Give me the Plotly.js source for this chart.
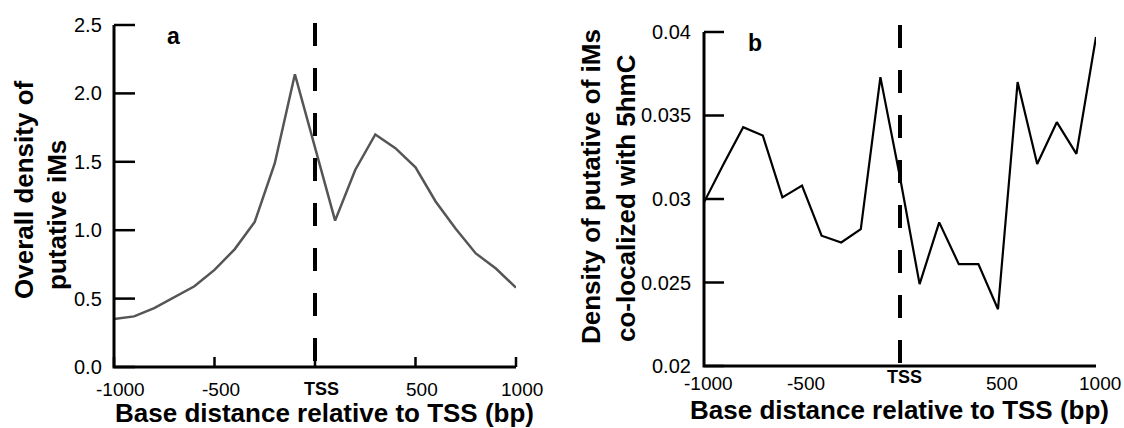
<!DOCTYPE html>
<html>
<head>
<meta charset="utf-8">
<script src="https://cdn.plot.ly/plotly-3.0.1.min.js"></script>
<style>html,body{margin:0;padding:0;background:#fff;}#chart{width:1124px;height:428px;}</style>
</head>
<body>
<div id="chart"></div>
<script>
// Base distance relative to TSS (bp)
const distance = [-1000,-900,-800,-700,-600,-500,-400,-300,-200,-100,0,100,200,300,400,500,600,700,800,900,1000];
// Panel a: overall density of putative iMs
const densityAll = [0.35,0.37,0.43,0.51,0.59,0.71,0.86,1.06,1.49,2.14,1.60,1.07,1.44,1.70,1.60,1.46,1.21,1.01,0.83,0.72,0.58];
// Panel b: density of putative iMs co-localized with 5hmC
const density5hmC = [0.0298,0.0321,0.0343,0.0338,0.0301,0.0308,0.0278,0.0274,0.0282,0.0373,0.0313,0.0249,0.0286,0.0261,0.0261,0.0234,0.0370,0.0321,0.0346,0.0327,0.0397];

const xTickVals = [-1000,-500,0,500,1000];
const xTickText = ['-1000','-500','TSS','500','1000'];
const yTickValsA = [0,0.5,1.0,1.5,2.0,2.5];
const yTickTextA = ['0.0','0.5','1.0','1.5','2.0','2.5'];
const yTickValsB = [0.02,0.025,0.03,0.035,0.04];
const yTickTextB = ['0.02','0.025','0.03','0.035','0.04'];
const tssMarker = 0;
const rangeX = [-1000, 1000];
const rangeA = [0, 2.5];
const rangeB = [0.02, 0.04];

const W = 1124, H = 428;
const M = {l: 114, r: 28, t: 25, b: 61};
const PW = W - M.l - M.r, PH = H - M.t - M.b;
const FONT = '"Liberation Sans", Arial, sans-serif';
const px = v => (v - M.l) / PW;
const py = v => (H - M.b - v) / PH;
const frac = (v, r) => (v - r[0]) / (r[1] - r[0]);

const traces = [
  {x: distance, y: densityAll, type: 'scatter', mode: 'lines', xaxis: 'x', yaxis: 'y',
   line: {color: '#555555', width: 2.5}},
  {x: distance, y: density5hmC, type: 'scatter', mode: 'lines', xaxis: 'x2', yaxis: 'y2',
   line: {color: '#000000', width: 2.2}}
];

function ax(extra) {
  return Object.assign({showgrid: false, zeroline: false, showline: false, ticks: '', showticklabels: false,
    fixedrange: true}, extra);
}

// axis frames, ticks and TSS markers
const shapes = [];
function frame(xr, yr) {
  shapes.push({type: 'path', xref: xr + ' domain', yref: yr + ' domain', path: 'M0,1 L0,0 L1,0',
    line: {color: '#000000', width: 3}});
}
function yTicks(xr, yr, vals, range, len) {
  vals.forEach(v => shapes.push({type: 'line', xref: xr + ' domain', yref: yr + ' domain',
    xsizemode: 'pixel', xanchor: 0, x0: 0, x1: len, y0: frac(v, range), y1: frac(v, range),
    line: {color: '#000000', width: 2.5}}));
}
function xTicks(xr, yr, vals, range, len) {
  vals.forEach(v => shapes.push({type: 'line', xref: xr + ' domain', yref: yr + ' domain',
    ysizemode: 'pixel', yanchor: 0, y0: 0, y1: len, x0: frac(v, range), x1: frac(v, range),
    line: {color: '#000000', width: 2.5}}));
}
frame('x', 'y');
frame('x2', 'y2');
yTicks('x', 'y', yTickValsA, rangeA, 21);
xTicks('x', 'y', xTickVals, rangeX, 10);
yTicks('x2', 'y2', yTickValsB, rangeB, 20);
shapes.push({type: 'line', xref: 'x', yref: 'y domain', x0: tssMarker, x1: tssMarker, y0: 1 + 2 / 342, y1: 0,
  line: {color: '#000000', width: 4, dash: '23px,22px'}});
shapes.push({type: 'line', xref: 'x2', yref: 'y2 domain', x0: tssMarker, x1: tssMarker, y0: 1 + 7 / 334, y1: 0,
  line: {color: '#000000', width: 4, dash: '23px,22px'}});

// texts
const annotations = [];
function ann(o) {
  annotations.push(Object.assign({showarrow: false, borderpad: 0, xanchor: 'center', yanchor: 'middle'}, o));
}
function xLabels(xr, yr, yshiftBase, xshift, tssShift) {
  xTickVals.forEach((v, i) => {
    const isTss = xTickText[i] === 'TSS';
    ann({xref: xr + ' domain', yref: yr + ' domain', x: frac(v, rangeX), y: 0,
      xshift: xshift, yshift: isTss ? tssShift : yshiftBase,
      text: isTss ? '<b>' + xTickText[i] + '</b>' : xTickText[i],
      font: {family: FONT, size: isTss ? 18 : 19, color: '#000000'}});
  });
}
function yLabels(xr, yr, vals, texts, range, xshift) {
  vals.forEach((v, i) => ann({xref: xr + ' domain', yref: yr + ' domain', x: 0, y: frac(v, range),
    xanchor: 'right', xshift: xshift, text: texts[i], font: {family: FONT, size: 20, color: '#000000'}}));
}
xLabels('x', 'y', -22, 6, -22);
xLabels('x2', 'y2', -17, 4, -11);
yLabels('x', 'y', yTickValsA, yTickTextA, rangeA, -11);
yLabels('x2', 'y2', yTickValsB, yTickTextB, rangeB, -12);

function pann(x, y, text, size, angle) {
  ann({xref: 'paper', yref: 'paper', x: px(x), y: py(y), text: text, textangle: angle || 0,
    font: {family: FONT, size: size, color: '#000000'}});
}
pann(173, 36, '<b>a</b>', 23);
pann(755, 43, '<b>b</b>', 23);
pann(324, 413, '<b>Base distance relative to TSS (bp)</b>', 26);
pann(899, 410, '<b>Base distance relative to TSS (bp)</b>', 26);
pann(24, 190, '<b>Overall density of</b>', 26, -90);
pann(57, 215, '<b>putative iMs</b>', 26, -90);
pann(591, 187, '<b>Density of putative of iMs</b>', 26, -90);
pann(626, 198, '<b>co-localized with 5hmC</b>', 26, -90);

const layout = {
  width: W, height: H, margin: M, showlegend: false,
  paper_bgcolor: '#ffffff', plot_bgcolor: '#ffffff',
  font: {family: FONT, color: '#000000'},
  xaxis: ax({domain: [px(114), px(516)], range: rangeX, anchor: 'y'}),
  yaxis: ax({domain: [py(367), py(25)], range: rangeA, anchor: 'x'}),
  xaxis2: ax({domain: [px(704), px(1096)], range: rangeX, anchor: 'y2'}),
  yaxis2: ax({domain: [py(366), py(32)], range: rangeB, anchor: 'x2'}),
  shapes: shapes,
  annotations: annotations
};

Plotly.newPlot('chart', traces, layout, {displayModeBar: false});
</script>
</body>
</html>
